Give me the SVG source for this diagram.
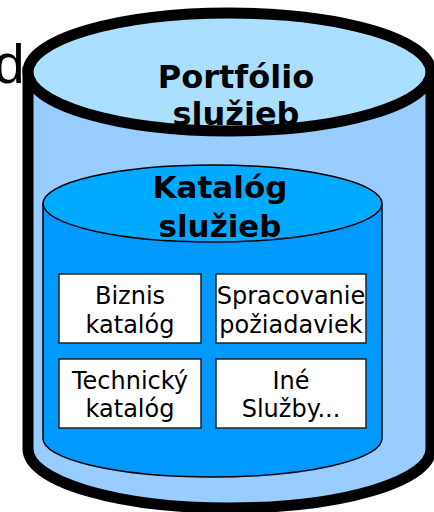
<svg xmlns="http://www.w3.org/2000/svg" width="434" height="512" viewBox="0 0 434 512">
<style>
.t{font-family:"DejaVu Sans",sans-serif;text-anchor:middle;fill:#000}
.b{font-weight:bold;font-size:31px}
.s{font-size:24px}
.box{fill:#fff;stroke:#222;stroke-width:1.5}
</style>
<rect width="434" height="512" fill="#fff"/>
<text x="-6" y="83" font-family="Liberation Sans, Arial, sans-serif" font-size="55" fill="#000">d</text>
<g id="portfolio">
<path d="M28,72 L28,449 A201.5,59 0 0 0 431,449 L431,72 Z" fill="#99ccff" stroke="#000" stroke-width="11"/>
<ellipse cx="229.5" cy="72" rx="201.5" ry="59" fill="#aadfff" stroke="#000" stroke-width="11"/>
<text class="t b" x="236" y="88" style="font-size:32px">Portfólio</text>
<text class="t b" x="236" y="125" style="font-size:32px">služieb</text>
</g>
<g id="katalog">
<path d="M43,203.5 L43,438.5 A169.5,38.5 0 0 0 382,438.5 L382,203.5 Z" fill="#0099ff" stroke="#000" stroke-width="1.5"/>
<ellipse cx="212.5" cy="203.5" rx="169.5" ry="38.5" fill="#00aaff" stroke="#000" stroke-width="1.5"/>
<text class="t b" x="220" y="198">Katalóg</text>
<text class="t b" x="220" y="237">služieb</text>
</g>
<g id="biznis">
<rect class="box" x="59" y="274" width="142" height="69"/>
<text class="t s" x="130" y="304">Biznis</text>
<text class="t s" x="130" y="333">katalóg</text>
</g>
<g id="spracovanie">
<rect class="box" x="216" y="274" width="150" height="69"/>
<text class="t s" x="291" y="304">Spracovanie</text>
<text class="t s" x="291" y="333">požiadaviek</text>
</g>
<g id="technicky">
<rect class="box" x="59" y="359" width="142" height="69"/>
<text class="t s" x="130" y="389">Technický</text>
<text class="t s" x="130" y="417">katalóg</text>
</g>
<g id="ine">
<rect class="box" x="216" y="359" width="150" height="69"/>
<text class="t s" x="291" y="389">Iné</text>
<text class="t s" x="291" y="417">Služby...</text>
</g>
<g id="connectors"/>
</svg>
